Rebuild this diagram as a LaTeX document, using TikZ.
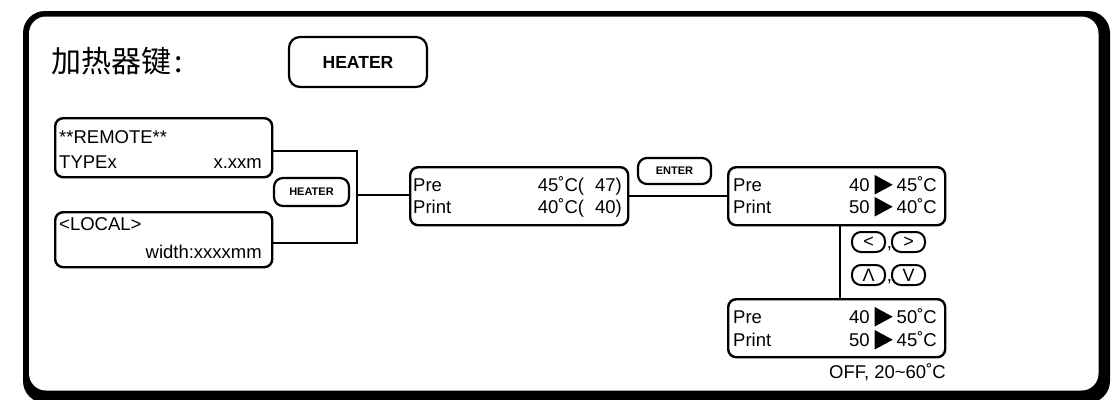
\documentclass[tikz,border=0pt]{standalone}
\usepackage{fontspec}
\setmainfont{Liberation Sans}
\newfontfamily\cjk{Noto Sans CJK SC}
\newcommand\mytri{\tikz[baseline=0pt]\fill[black] (0pt,-3.5pt) -- (0pt,16pt) -- (18pt,6.25pt) -- cycle;}
\newcommand\tv[2]{#1\hspace{5pt}\mytri\hspace{4pt}#2˚C}
\begin{document}
\begin{tikzpicture}[x=1pt,y=-1pt,
  lcd/.style={draw, line width=2.4pt, rounded corners=8pt, inner sep=0pt, anchor=north west},
  btn/.style={draw, line width=2.2pt, rounded corners=9pt, inner sep=0pt, font=\bfseries\fontsize{11}{12}\selectfont},
  keybtn/.style={draw, line width=2pt, rounded corners=9pt, inner sep=0pt, minimum width=33pt, minimum height=20pt, font=\fontsize{18}{20}\selectfont},
  txt/.style={inner sep=0pt, font=\fontsize{18.5}{22}\selectfont},
  conn/.style={line width=2.2pt}]
\useasboundingbox (0,0) rectangle (1115,399);
% outer frame
\fill[black, rounded corners=22pt] (23,11) rectangle (1110,403);
\fill[white, rounded corners=17pt] (29,16.5) rectangle (1098.5,390.5);
% title
\node[inner sep=0pt, anchor=west, font=\cjk\fontsize{30}{34}\selectfont] (title) at (51,61) {加热器键\hspace{3pt}:};
\node[btn, minimum width=138pt, minimum height=50pt, rounded corners=11pt, font=\bfseries\fontsize{17.5}{20}\selectfont] (hbig) at (358,62) {HEATER};
% left boxes
\node[lcd, minimum width=217pt, minimum height=59pt] (remote) at (54,117) {};
\node[txt, anchor=base west] (r1) at (59,143) {**REMOTE**};
\node[txt, anchor=base west] (r2) at (59,168) {TYPEx};
\node[txt, anchor=base east] (r3) at (262,168) {x.xxm};
\node[lcd, minimum width=217pt, minimum height=55pt] (local) at (54,211) {};
\node[txt, anchor=base west] (l1) at (59,230) {<LOCAL>};
\node[txt, anchor=base east] (l2) at (262,258) {width:xxxxmm};
\node[btn, minimum width=75pt, minimum height=28pt] (hsmall) at (311.5,192) {HEATER};
% box 1
\node[lcd, minimum width=218pt, minimum height=58pt] (b1) at (409,166) {};
\node[txt, anchor=base west] (b1a) at (413,191) {Pre};
\node[txt, anchor=base west] (b1b) at (413,213) {Print};
\node[txt, anchor=base east] (b1c) at (622,191) {45˚C(\hspace{11pt}47)};
\node[txt, anchor=base east] (b1d) at (622,213) {40˚C(\hspace{11pt}40)};
\node[btn, minimum width=73pt, minimum height=26pt] (enter) at (674.5,171) {ENTER};
% box 2
\node[lcd, minimum width=217pt, minimum height=58pt] (b2) at (727,166) {};
\node[txt, anchor=base west] (b2a) at (733,191) {Pre};
\node[txt, anchor=base west] (b2b) at (733,213) {Print};
\node[txt, anchor=base east] (b2c) at (937,191) {\tv{40}{45}};
\node[txt, anchor=base east] (b2d) at (937,213) {\tv{50}{40}};
% keys
\node[keybtn] (kl) at (868.5,242) {<};
\node[keybtn] (kr) at (908.5,242) {>};
\node[keybtn] (ku) at (868.5,275) {Λ};
\node[keybtn] (kd) at (908.5,275) {V};
\node[txt, anchor=base] (c1) at (889.5,248) {,};
\node[txt, anchor=base] (c2) at (889.5,281) {,};
% box 3
\node[lcd, minimum width=217pt, minimum height=58pt] (b3) at (727,298) {};
\node[txt, anchor=base west] (b3a) at (733,323) {Pre};
\node[txt, anchor=base west] (b3b) at (733,346) {Print};
\node[txt, anchor=base east] (b3c) at (937,323) {\tv{40}{50}};
\node[txt, anchor=base east] (b3d) at (937,346) {\tv{50}{45}};
\node[txt, anchor=base east] (range) at (946,378) {OFF, 20\char"007E 60˚C};
% connectors
\coordinate (j) at (357,195);
\draw[conn] ([yshift=-3pt]remote.east) -| (j) |- ([yshift=-3pt]local.east);
\draw[conn] (j) -- (j -| b1.west);
\draw[conn] (b1.east) -- (b2.west);
\coordinate (v1) at (840,225);
\coordinate (v2) at (840,298);
\draw[conn] (v1) -- (v2);
\end{tikzpicture}
\end{document}
